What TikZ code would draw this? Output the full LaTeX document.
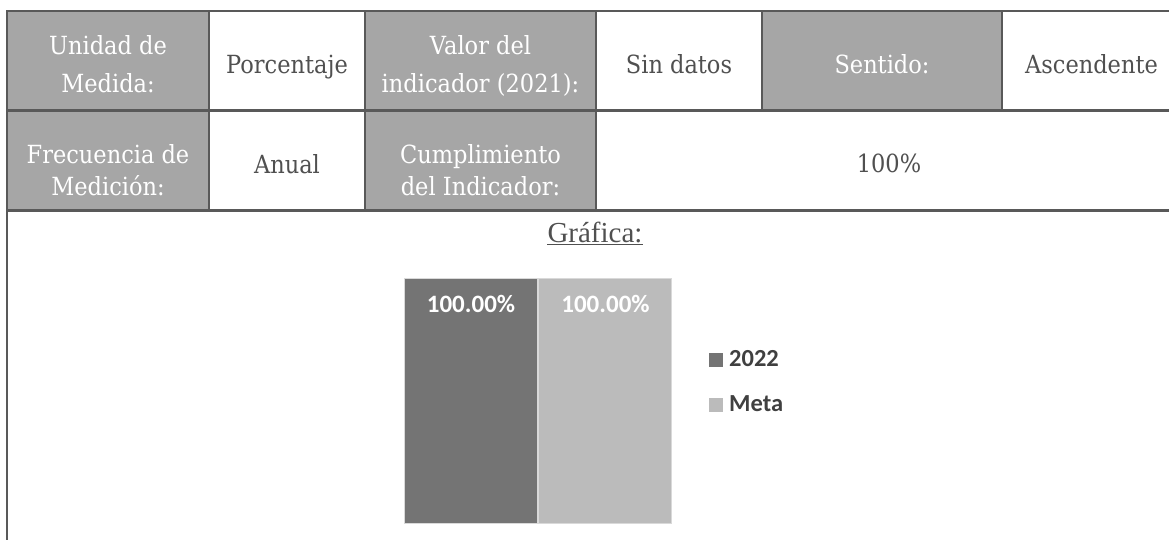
\documentclass[tikz,border=0pt]{standalone}
\usepackage{fontspec}
\setmainfont{DejaVu Serif}[FakeStretch=0.9]
\newfontfamily\timesf{Liberation Serif}
\newfontfamily\calib{Carlito}
\definecolor{hdr}{HTML}{A6A6A6}
\definecolor{bord}{HTML}{595959}
\definecolor{txt}{HTML}{505050}
\definecolor{bardark}{HTML}{747474}
\definecolor{barlight}{HTML}{BBBBBB}
\definecolor{barline}{HTML}{D9D9D9}
\definecolor{legtxt}{HTML}{404040}
\begin{document}
\begin{tikzpicture}[x=1pt,y=-1pt,
  cell/.style={draw=bord, line width=2.5pt, inner sep=0pt, outer sep=0pt, anchor=north west},
  hcell/.style={cell, fill=hdr},
  vcell/.style={cell, fill=white},
  ctext/.style={anchor=base, inner sep=0pt, font=\fontsize{25}{30}\selectfont},
  htext/.style={ctext, text=white},
  vtext/.style={ctext, text=txt},
  barlbl/.style={anchor=base, inner sep=0pt, text=white, font=\calib\bfseries\fontsize{25}{28}\selectfont},
  legsq/.style={inner sep=0pt, minimum size=14pt, draw=none},
  legtext/.style={anchor=base west, inner sep=0pt, text=legtxt, font=\calib\bfseries\fontsize{24.5}{28}\selectfont},
]
\useasboundingbox (0,0) rectangle (1169,540);
\clip (0,0) rectangle (1169,540);
% row 3 (chart area)
\node[cell, minimum width=1175pt, minimum height=360pt] (graf) at (7,210.5) {};
% row 1
\node[hcell, minimum width=202pt, minimum height=99pt] (unidad) at (7,11) {};
\node[vcell, minimum width=156pt, minimum height=99pt] (porc) at (209,11) {};
\node[hcell, minimum width=231pt, minimum height=99pt] (valor) at (365,11) {};
\node[vcell, minimum width=166pt, minimum height=99pt] (sindat) at (596,11) {};
\node[hcell, minimum width=240pt, minimum height=99pt] (sentido) at (762,11) {};
\node[vcell, minimum width=180pt, minimum height=99pt] (asc) at (1002,11) {};
% row 2
\node[hcell, minimum width=202pt, minimum height=100pt] (frec) at (7,110.5) {};
\node[vcell, minimum width=156pt, minimum height=100pt] (anual) at (209,110.5) {};
\node[hcell, minimum width=231pt, minimum height=100pt] (cumpl) at (365,110.5) {};
\node[vcell, minimum width=586pt, minimum height=100pt] (cien) at (596,110.5) {};
% texts row 1
\node[htext] (t1a) at (108,55) {Unidad de};
\node[htext] (t1b) at (108,93) {Medida:};
\node[vtext] (t2) at (287,74) {Porcentaje};
\node[htext] (t3a) at (480.5,55) {Valor del};
\node[htext] (t3b) at (480.5,93) {indicador (2021):};
\node[vtext] (t4) at (679,74) {Sin datos};
\node[htext] (t5) at (882,74) {Sentido:};
\node[vtext] (t6) at (1091.5,74) {Ascendente};
% texts row 2
\node[htext] (t7a) at (108,163.5) {Frecuencia de};
\node[htext] (t7b) at (108,196) {Medición:};
\node[vtext] (t8) at (287,173.5) {Anual};
\node[htext] (t9a) at (480.5,163.5) {Cumplimiento};
\node[htext] (t9b) at (480.5,196) {del Indicador:};
\node[vtext] (t10) at (889,173) {100\%};
% chart title
\node[anchor=base, inner sep=0pt, text=txt, font=\timesf\fontsize{29}{32}\selectfont] (gtitle) at (595,242.5) {Gráfica:};
\draw[txt, line width=1.3pt] (gtitle.base west) ++(0,2) coordinate (ul1) -- (gtitle.base east |- ul1);
% bars
\node[inner sep=0pt, outer sep=0pt, fill=bardark, draw=barline, line width=1pt, minimum width=133pt, minimum height=245pt, anchor=north west] (bar1) at (404,278) {};
\node[inner sep=0pt, outer sep=0pt, fill=barlight, draw=barline, line width=1pt, minimum width=133pt, minimum height=245pt, anchor=north west] (bar2) at (538.5,278) {};
\node[barlbl] (l1) at (471,312.7) {100.00\%};
\node[barlbl] (l2) at (605.5,312.7) {100.00\%};
% legend
\node[legsq, fill=bardark] (sq1) at (716,359.5) {};
\node[legtext] (lg1) at (729,366.7) {2022};
\node[legsq, fill=barlight] (sq2) at (716,405) {};
\node[legtext] (lg2) at (729,411.7) {Meta};
\end{tikzpicture}
\end{document}
